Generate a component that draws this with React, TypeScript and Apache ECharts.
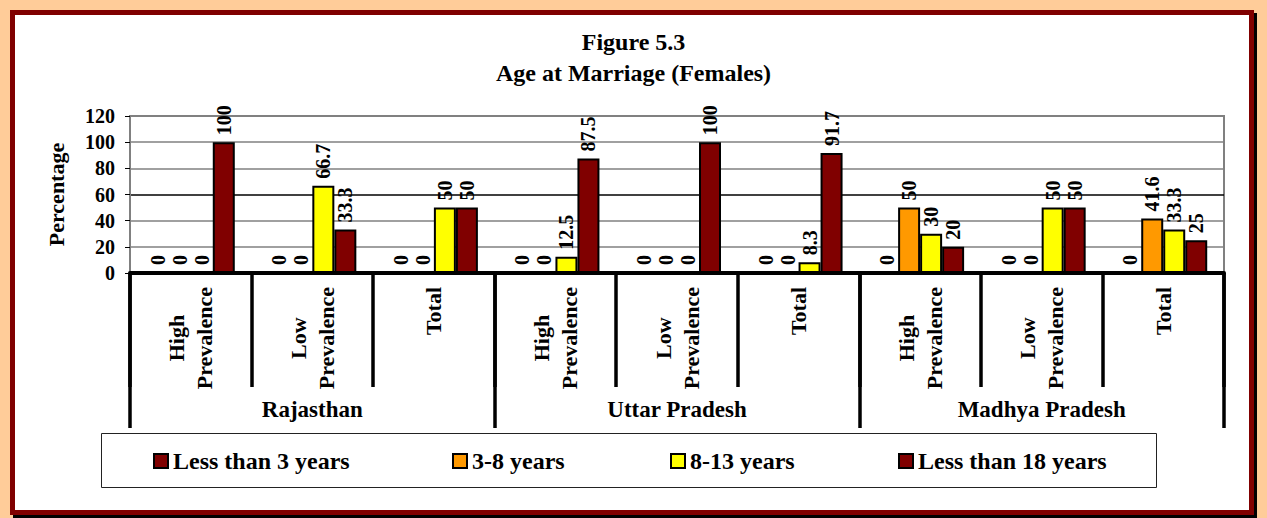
import React, { useEffect, useRef } from "react";
import * as echarts from "echarts";

const categories = [
  "High\nPrevalence", "Low\nPrevalence", "Total",
  "High\nPrevalence", "Low\nPrevalence", "Total",
  "High\nPrevalence", "Low\nPrevalence", "Total",
];
const states = ["Rajasthan", "Uttar Pradesh", "Madhya Pradesh"];
const seriesNames = ["Less than 3 years", "3-8 years", "8-13 years", "Less than 18 years"];
const seriesColors = ["#800000", "#FF9900", "#FFFF00", "#800000"];
const lessThan3 = [0, 0, 0, 0, 0, 0, 0, 0, 0];
const years3to8 = [0, 0, 0, 0, 0, 0, 50, 0, 41.6];
const years8to13 = [0, 66.7, 50, 12.5, 0, 8.3, 30, 50, 33.3];
const lessThan18 = [100, 33.3, 50, 87.5, 100, 91.7, 20, 50, 25];
const seriesValues = [lessThan3, years3to8, years8to13, lessThan18];
const yTicks = [0, 20, 40, 60, 80, 100, 120];
const legendLefts = [153, 452, 670, 898];

const FONT = "Liberation Serif";

export default function App() {
  const ref = useRef<HTMLDivElement>(null);
  useEffect(() => {
    if (!ref.current) return;
    const chart = echarts.init(ref.current, null, { renderer: "svg" });
    const option: any = {
      animation: false,
      title: {
        text: "Figure 5.3\nAge at Marriage (Females)",
        left: "center",
        top: 26,
        padding: 0,
        textStyle: { fontFamily: FONT, fontWeight: "bold", fontSize: 24, lineHeight: 31, color: "#000" },
      },
      legend: seriesNames.map((n, i) => ({
        data: [n],
        left: legendLefts[i],
        top: 449,
        padding: 0,
        icon: "rect",
        itemWidth: 14,
        itemHeight: 14,
        itemStyle: { borderColor: "#000", borderWidth: 2 },
        textStyle: { fontFamily: FONT, fontWeight: "bold", fontSize: 24, lineHeight: 24, color: "#000" },
      })),
      graphic: [
        {
          type: "rect",
          shape: { x: 101.5, y: 433.5, width: 1055, height: 54 },
          style: { fill: "none", stroke: "#222", lineWidth: 1 },
          silent: true,
        },
      ],
      grid: {
        left: 130,
        right: 43,
        top: 116,
        bottom: 245,
        show: true,
        borderColor: "#808080",
        borderWidth: 2,
      },
      yAxis: {
        type: "value",
        min: yTicks[0],
        max: yTicks[yTicks.length - 1],
        interval: 20,
        name: "Percentage",
        nameLocation: "middle",
        nameGap: 63,
        nameTextStyle: { fontFamily: FONT, fontWeight: "bold", fontSize: 22, color: "#000" },
        axisLine: { show: true, lineStyle: { color: "#808080", width: 2 } },
        axisTick: { show: true, length: 5, lineStyle: { color: "#000", width: 1 } },
        axisLabel: { fontFamily: FONT, fontWeight: "bold", fontSize: 20, color: "#000", margin: 15 },
        splitLine: {
          show: true,
          lineStyle: {
            color: ["#808080", "#808080", "#808080", "#000", "#808080", "#808080", "#808080"],
            width: 1.5,
          },
        },
      },
      xAxis: [
        {
          type: "category",
          data: categories,
          position: "bottom",
          axisLine: { show: true, lineStyle: { color: "#000", width: 4 } },
          axisTick: { show: true, interval: 0, length: 114, lineStyle: { color: "#000", width: 3.5 } },
          axisLabel: {
            interval: 0,
            rotate: 90,
            margin: 14,
            formatter: (v: string) => v.split("\n").map((s) => `{c|${s}}`).join("\n"),
            rich: {
              c: { align: "center", fontFamily: FONT, fontWeight: "bold", fontSize: 22, lineHeight: 28, color: "#000" },
            },
          },
        },
        {
          type: "category",
          data: states,
          position: "bottom",
          axisLine: { show: false },
          axisTick: { show: true, interval: 0, length: 155, lineStyle: { color: "#000", width: 3.5 } },
          axisLabel: {
            interval: 0,
            margin: 125,
            fontFamily: FONT,
            fontWeight: "bold",
            fontSize: 23,
            color: "#000",
          },
        },
      ],
      series: seriesNames.map((n, i) => ({
        name: n,
        type: "bar",
        xAxisIndex: 0,
        data: seriesValues[i],
        barWidth: 22,
        barGap: "0%",
        itemStyle: { color: seriesColors[i], borderColor: "#000", borderWidth: 2 },
        label: {
          show: true,
          position: "top",
          rotate: 90,
          align: "left",
          verticalAlign: "middle",
          distance: 7,
          fontFamily: FONT,
          fontWeight: "bold",
          fontSize: 20,
          color: "#000",
        },
      })),
    };
    chart.setOption(option);
    return () => chart.dispose();
  }, []);

  return (
    <div style={{ position: "fixed", left: 0, top: 0, width: 1267, height: 518, background: "#FFCC99", overflow: "hidden" }}>
      <div
        style={{
          position: "absolute",
          left: 10,
          top: 10,
          width: 1244,
          height: 505,
          boxSizing: "border-box",
          border: "5px solid #800000",
          background: "#fff",
          boxShadow: "3px 3px 0 #000",
        }}
      />
      <div ref={ref} style={{ position: "absolute", left: 0, top: 0, width: 1267, height: 518 }} />
    </div>
  );
}
